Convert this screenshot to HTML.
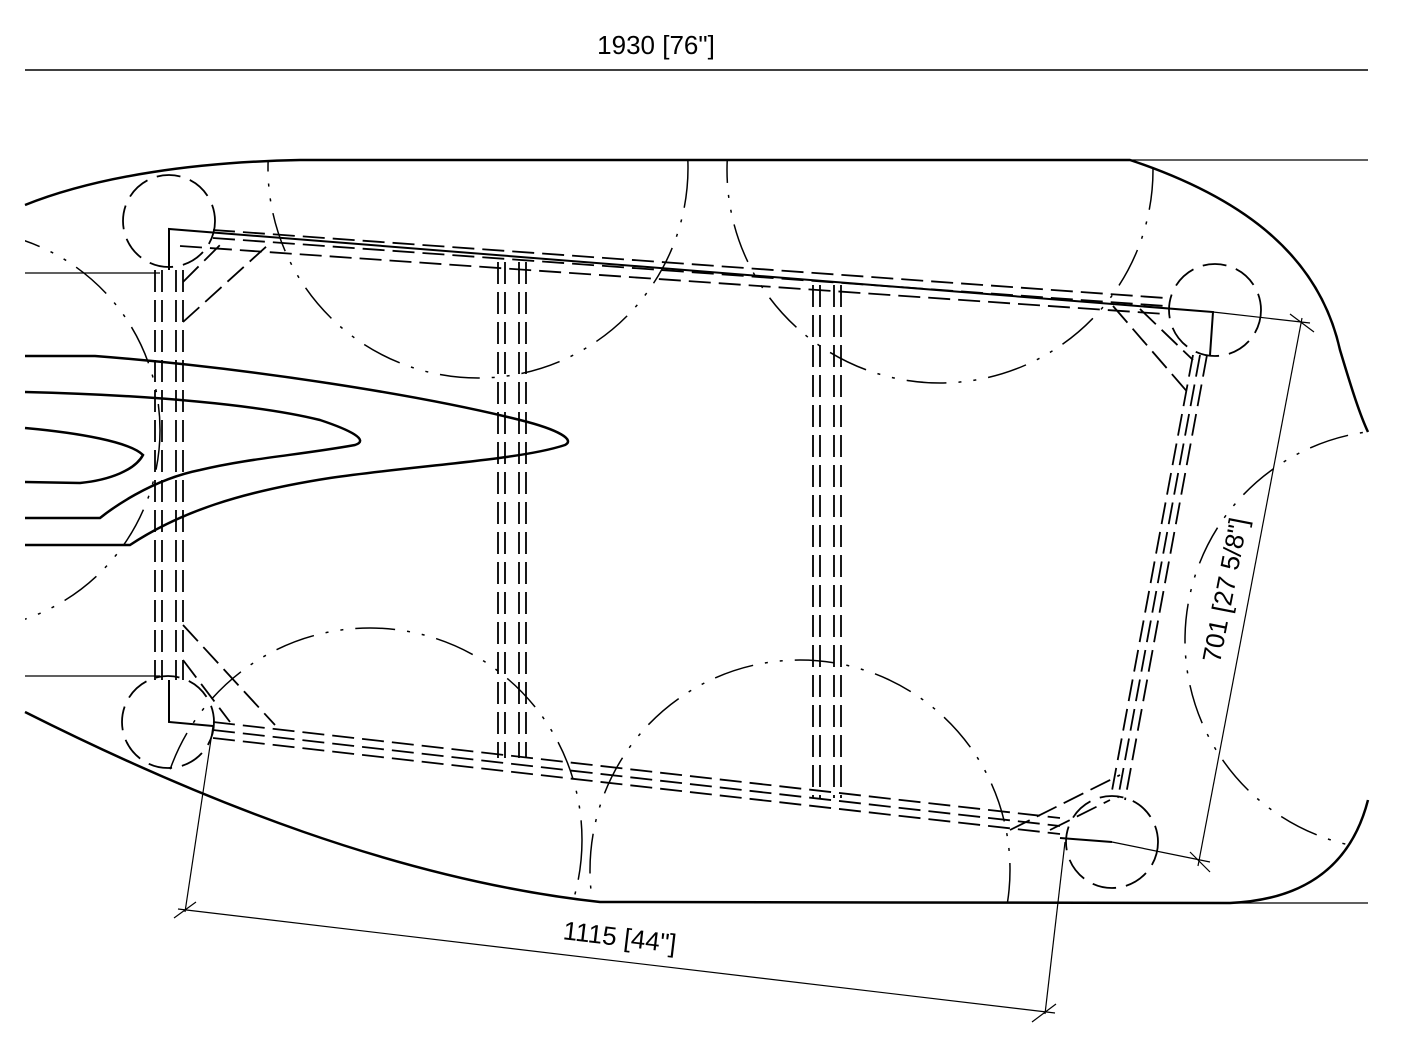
<!DOCTYPE html>
<html><head><meta charset="utf-8"><style>
html,body{margin:0;padding:0;background:#fff;overflow:hidden;width:1408px;height:1052px}
svg{display:block}
text{font-family:"Liberation Sans",sans-serif;fill:#000}
</style></head><body>
<svg width="1408" height="1052" viewBox="0 0 1408 1052" xmlns="http://www.w3.org/2000/svg">
<defs>
<clipPath id="hull"><path d="M25,205 C100,175 200,162 300,160 L1130,160 C1250,200 1320,260 1345,360 C1355,400 1362,420 1368,430 L1368,800 C1350,870 1300,900 1230,903 L600,902 C400,880 200,800 25,712 Z"/></clipPath>
<clipPath id="view"><rect x="25" y="0" width="1343" height="1052"/></clipPath>
</defs>
<text x="656" y="54" font-size="26" text-anchor="middle">1930 [76"]</text>
<line x1="25" y1="70" x2="1368" y2="70" stroke="#000" stroke-width="1.5"/>
<g fill="none" stroke="#000">
<path d="M25,205 C100,175 200,162 300,160 L1130,160 C1250,200 1320,260 1340,350 C1352,390 1360,415 1368,432" stroke-width="2.5"/>
<path d="M1368,800 C1350,870 1300,900 1230,903 L600,902 C400,880 200,800 25,712" stroke-width="2.5"/>
<line x1="1130" y1="160" x2="1368" y2="160" stroke-width="1.2"/>
<line x1="1230" y1="903" x2="1368" y2="903" stroke-width="1.2"/>
<line x1="25" y1="273" x2="160" y2="273" stroke-width="1.2"/>
<line x1="25" y1="676" x2="160" y2="676" stroke-width="1.2"/>
<g clip-path="url(#hull)" stroke-width="1.5" stroke-dasharray="40,12,3,12,3,12">
<g clip-path="url(#view)">
<circle cx="478" cy="168" r="210"/>
<circle cx="940" cy="170" r="213"/>
<circle cx="-40" cy="430" r="200"/>
<circle cx="370" cy="840" r="212"/>
<circle cx="800" cy="870" r="210"/>
<circle cx="1395" cy="640" r="210"/>
</g></g>
<path d="M25,356 L95,356 C250,368 420,395 520,420 C560,430 575,440 565,445 C520,460 420,465 330,478 C240,492 180,512 130,545 L25,545" stroke-width="2.5"/>
<path d="M25,392 C150,395 260,405 320,420 C350,430 370,440 355,445 C300,455 250,458 200,470 C150,480 110,510 100,518 L25,518" stroke-width="2.5"/>
<path d="M25,428 C80,433 130,442 143,455 C135,470 110,480 80,483 L25,482" stroke-width="2.5"/>
<path d="M169,270 L169,229 L1213,312 L1210,355 M1112,842 L1060,838 M213,726 L169,722 L169,680" stroke-width="2"/>
<g stroke-width="1.8" stroke-dasharray="22,8">
<line x1="213" y1="230" x2="1165" y2="298"/>
<line x1="213" y1="238" x2="1165" y2="306"/>
<line x1="180" y1="246" x2="1165" y2="314"/>
<line x1="213" y1="722" x2="1060" y2="818"/>
<line x1="213" y1="730" x2="1060" y2="826"/>
<line x1="213" y1="738" x2="1060" y2="834"/>
<line x1="155" y1="270" x2="155" y2="680"/>
<line x1="162" y1="270" x2="162" y2="680"/>
<line x1="176" y1="270" x2="176" y2="680"/>
<line x1="183" y1="270" x2="183" y2="680"/>
<line x1="1207" y1="355" x2="1125" y2="800"/>
<line x1="1200" y1="355" x2="1118" y2="798"/>
<line x1="1193" y1="355" x2="1111" y2="796"/>
<line x1="498" y1="262" x2="498" y2="758"/>
<line x1="505" y1="262" x2="505" y2="758"/>
<line x1="519" y1="262" x2="519" y2="758"/>
<line x1="526" y1="262" x2="526" y2="758"/>
<line x1="813" y1="285" x2="813" y2="798"/>
<line x1="820" y1="285" x2="820" y2="798"/>
<line x1="834" y1="285" x2="834" y2="798"/>
<line x1="841" y1="285" x2="841" y2="798"/>
<line x1="183" y1="282" x2="225" y2="240"/>
<line x1="183" y1="322" x2="268" y2="245"/>
<line x1="183" y1="625" x2="275" y2="725"/>
<line x1="183" y1="660" x2="230" y2="722"/>
<line x1="1113" y1="306" x2="1190" y2="395"/>
<line x1="1140" y1="309" x2="1193" y2="360"/>
<line x1="1010" y1="830" x2="1120" y2="775"/>
<line x1="1050" y1="830" x2="1110" y2="800"/>
</g>
<g stroke-width="1.8" stroke-dasharray="24,10">
<circle cx="169" cy="221" r="46"/>
<circle cx="1215" cy="310" r="46"/>
<circle cx="168" cy="722" r="46"/>
<circle cx="1112" cy="842" r="46"/>
</g>
<g stroke-width="1.2">
<line x1="213" y1="726" x2="185" y2="912"/>
<line x1="1065" y1="842" x2="1045" y2="1014"/>
<line x1="178" y1="909" x2="1055" y2="1013"/>
<line x1="174" y1="918" x2="196" y2="902"/>
<line x1="1032" y1="1022" x2="1056" y2="1004"/>
<line x1="1213" y1="312" x2="1310" y2="323"/>
<line x1="1112" y1="842" x2="1210" y2="862"/>
<line x1="1302" y1="318" x2="1198" y2="866"/>
<line x1="1290" y1="314" x2="1314" y2="332"/>
<line x1="1190" y1="852" x2="1210" y2="872"/>
</g>
</g>
<text x="620" y="946" font-size="26" text-anchor="middle" transform="rotate(6.8 620 935)">1115 [44"]</text>
<text x="1225" y="599" font-size="26" text-anchor="middle" transform="rotate(-79 1225 590)">701 [27 5/8"]</text>
</svg>
</body></html>
